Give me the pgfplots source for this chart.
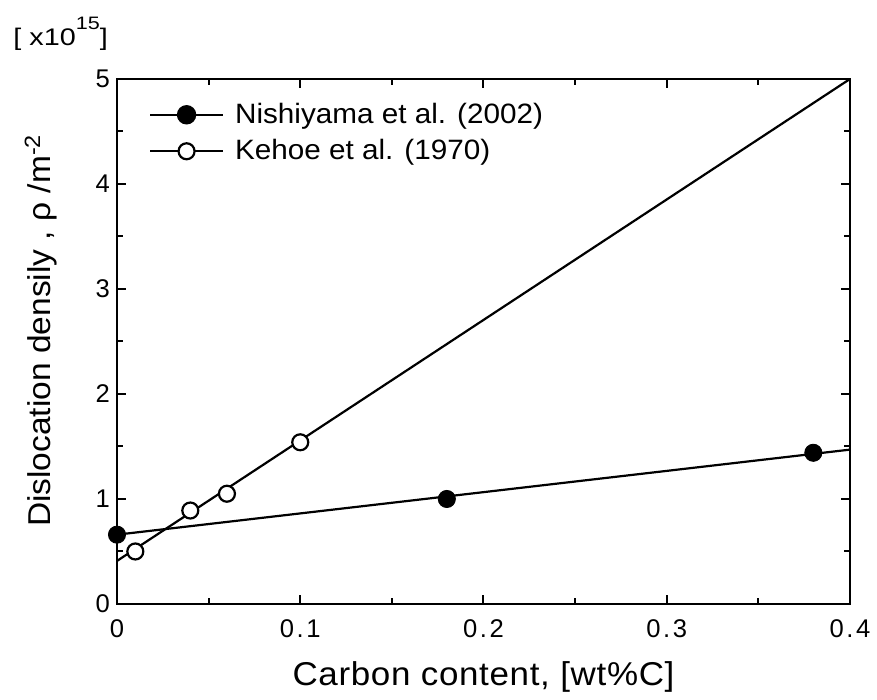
\documentclass[border=0pt]{standalone}
\usepackage{pgfplots}
\pgfplotsset{compat=1.18}
\usepackage{fontspec}
\setmainfont[FakeStretch=1.06]{Liberation Sans}
\newfontfamily\tickfont[LetterSpace=10]{Liberation Sans}
\newfontfamily\xlabfont[FakeStretch=1.06, LetterSpace=2]{Liberation Sans}
\newfontfamily\unitfont[FakeStretch=1.2]{Liberation Sans}
\begin{document}
\begin{tikzpicture}
\begin{axis}[
  scale only axis,
  width=366.5pt, height=262.5pt,
  xmin=0, xmax=0.4, ymin=0, ymax=5,
  xtick={0,0.1,0.2,0.3,0.4},
  xticklabels={0,0.1,0.2,0.3,0.4},
  ytick={0,1,2,3,4,5},
  minor x tick num=1, minor y tick num=1,
  tick align=inside,
  major tick length=4.5pt, minor tick length=3pt,
  axis line style={line width=1.4pt},
  every tick/.style={line width=1pt, black},
  /pgf/number format/assume math mode=true,
  ticklabel style={font=\tickfont\fontsize{12.8}{14}\selectfont},
  xticklabel style={yshift=-4.5pt},
  xlabel={Carbon content, [wt\%C]},
  ylabel={Dislocation densily , ρ /m\textsuperscript{-2}},
  xlabel style={font=\xlabfont\fontsize{16.5}{18}\selectfont, at={([yshift=-36.5pt]axis description cs:0.5,0)}, anchor=center},
  ylabel style={font=\fontsize{15.8}{17}\selectfont, at={([xshift=-38pt,yshift=5.5pt]axis description cs:0,0.5)}, anchor=center},
  clip=false,
  legend cell align=left,
  legend style={draw=none, fill=none, at={(rel axis cs:0.035,0.97)}, anchor=north west,
    font=\fontsize{14}{15}\selectfont, row sep=2.6pt,
    /tikz/every odd column/.append style={column sep=3.5pt}},
  legend image code/.code={\draw[mark repeat=2,mark phase=2,#1] plot coordinates {(0cm,0cm) (0.64cm,0cm) (1.28cm,0cm)};},
]
\addlegendimage{black, line width=1.1pt, mark=*, mark size=4.3pt, mark options={fill=black}}
\addlegendentry{Nishiyama et al. (2002)}
\addlegendimage{black, line width=1.1pt, mark=*, mark size=4pt, mark options={fill=white}}
\addlegendentry{Kehoe et al. (1970)}
% fit lines
\addplot[black, line width=1.1pt, forget plot] coordinates {(0,0.66) (0.4,1.47)};
\addplot[black, line width=1.1pt, forget plot] coordinates {(0,0.41) (0.4,5.0)};
% data
\addplot[only marks, mark=*, mark size=4.3pt, mark options={fill=black, draw=black}, forget plot]
  coordinates {(0,0.66) (0.18,1.0) (0.38,1.44)};
\addplot[only marks, mark=*, mark size=4pt, mark options={fill=white, draw=black, line width=1.1pt}, forget plot]
  coordinates {(0.01,0.50) (0.04,0.89) (0.06,1.05) (0.1,1.54)};
\node[anchor=base west, inner sep=0pt, font=\unitfont\fontsize{12}{13}\selectfont] at ([xshift=-52pt,yshift=16.5pt]rel axis cs:0,1) {[ x10\raisebox{8pt}{\fontsize{9}{10}\selectfont 15}]};
\path ([xshift=-58.5pt,yshift=-43pt]rel axis cs:0,0) rectangle ([xshift=13.5pt,yshift=39.5pt]rel axis cs:1,1);
\end{axis}
\end{tikzpicture}
\end{document}
